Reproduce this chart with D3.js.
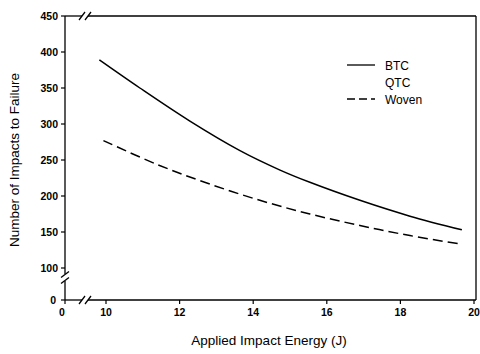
<!DOCTYPE html>
<html>
<head>
<meta charset="utf-8">
<script src="https://cdn.jsdelivr.net/npm/d3@7"></script>
<style>
  body { margin: 0; background: #fff; }
  text { font-family: "Liberation Sans", Arial, sans-serif; fill: #000; }
</style>
</head>
<body>
<script>
// data
const energy = [9.82, 10.92, 12.28, 13.64, 14.73, 15.54, 16.9, 18.26, 19.67];
const btc = [389, 350, 304, 263, 236, 219, 194, 172, 153];
const wovenEnergy = [9.93, 11.38, 12.74, 14.18, 15.54, 16.9, 18.26, 19.67];
const woven = [277, 244, 218, 194, 175, 159, 145, 133];
const xTicks = [10, 12, 14, 16, 18, 20];
const yTicks = [100, 150, 200, 250, 300, 350, 400, 450];
const legendNames = ["BTC", "QTC", "Woven"];

const width = 480, height = 354;
const mLeft = 65, mRight = 476, mTop = 16, mBottom = 300;

const svg = d3.select('body').append('svg')
  .attr('width', width)
  .attr('height', height);

// broken scales: main part + the zero stub
const x = d3.scaleLinear().domain([10, 20]).range([106, 474]);
const y = d3.scaleLinear().domain([100, 450]).range([268, mTop]);

const ax = svg.append('g').attr('stroke', '#000').attr('fill', 'none').attr('stroke-width', 1.3);

// left axis, broken near bottom
ax.append('line').attr('x1', mLeft).attr('x2', mLeft).attr('y1', mTop).attr('y2', 274);
ax.append('line').attr('x1', mLeft).attr('x2', mLeft).attr('y1', 281).attr('y2', mBottom);
// bottom axis, broken near left
ax.append('line').attr('x1', mLeft).attr('x2', 82).attr('y1', mBottom).attr('y2', mBottom);
ax.append('line').attr('x1', 88).attr('x2', mRight).attr('y1', mBottom).attr('y2', mBottom);
// top frame, broken
ax.append('line').attr('x1', mLeft).attr('x2', 82).attr('y1', mTop).attr('y2', mTop);
ax.append('line').attr('x1', 88).attr('x2', mRight).attr('y1', mTop).attr('y2', mTop);
// right frame
ax.append('line').attr('x1', mRight).attr('x2', mRight).attr('y1', mTop).attr('y2', mBottom);

// break marks
function slashes(cx, cy, horiz) {
  [-3, 3].forEach(o => {
    if (horiz) {
      ax.append('line').attr('x1', cx + o - 3).attr('y1', cy + 4).attr('x2', cx + o + 3).attr('y2', cy - 4);
    } else {
      ax.append('line').attr('x1', mLeft - 4).attr('y1', cy + o + 3).attr('x2', mLeft + 4).attr('y2', cy + o - 3);
    }
  });
}
slashes(85, mTop, true);
slashes(85, mBottom, true);
slashes(mLeft, 277.5, false);

// y ticks
const yt = svg.append('g');
yTicks.forEach(v => {
  yt.append('line').attr('x1', mLeft - 4).attr('x2', mLeft).attr('y1', y(v)).attr('y2', y(v)).attr('stroke', '#000').attr('stroke-width', 1.2);
  yt.append('text').attr('x', mLeft - 7).attr('y', y(v) + 3.5).attr('text-anchor', 'end')
    .attr('font-size', 10.5).attr('font-weight', 'bold').text(v);
});
yt.append('line').attr('x1', mLeft - 4).attr('x2', mLeft).attr('y1', mBottom).attr('y2', mBottom).attr('stroke', '#000').attr('stroke-width', 1.2);
yt.append('text').attr('x', mLeft - 9).attr('y', mBottom + 3.5).attr('text-anchor', 'end')
  .attr('font-size', 10.5).attr('font-weight', 'bold').text(0);

// x ticks
const xt = svg.append('g');
xTicks.forEach(v => {
  xt.append('line').attr('x1', x(v)).attr('x2', x(v)).attr('y1', mBottom).attr('y2', mBottom + 4).attr('stroke', '#000').attr('stroke-width', 1.2);
  xt.append('text').attr('x', x(v)).attr('y', mBottom + 16).attr('text-anchor', 'middle')
    .attr('font-size', 10.5).attr('font-weight', 'bold').text(v);
});
xt.append('line').attr('x1', mLeft).attr('x2', mLeft).attr('y1', mBottom).attr('y2', mBottom + 4).attr('stroke', '#000').attr('stroke-width', 1.2);
xt.append('text').attr('x', mLeft - 3).attr('y', mBottom + 16).attr('text-anchor', 'middle')
  .attr('font-size', 10.5).attr('font-weight', 'bold').text(0);

// axis titles
svg.append('text').attr('x', 269).attr('y', 345).attr('text-anchor', 'middle')
  .attr('font-size', 13.5).text('Applied Impact Energy (J)');
svg.append('text').attr('transform', 'translate(19,160) rotate(-90)').attr('text-anchor', 'middle')
  .attr('font-size', 13.5).text('Number of Impacts to Failure');

// curves
const line = d3.line().x(d => x(d[0])).y(d => y(d[1])).curve(d3.curveCatmullRom.alpha(0.5));
svg.append('path').datum(d3.zip(energy, btc))
  .attr('d', line).attr('fill', 'none').attr('stroke', '#000').attr('stroke-width', 1.5);
svg.append('path').datum(d3.zip(wovenEnergy, woven))
  .attr('d', line).attr('fill', 'none').attr('stroke', '#000').attr('stroke-width', 1.5)
  .attr('stroke-dasharray', '10,5');

// legend (QTC has no visible line)
const lg = svg.append('g');
legendNames.forEach((n, i) => {
  const ly = 65 + i * 17;
  if (n === 'BTC') {
    lg.append('line').attr('x1', 347).attr('x2', 375).attr('y1', ly).attr('y2', ly).attr('stroke', '#000').attr('stroke-width', 1.3);
  } else if (n === 'Woven') {
    lg.append('line').attr('x1', 347).attr('x2', 375).attr('y1', ly).attr('y2', ly).attr('stroke', '#000').attr('stroke-width', 1.5).attr('stroke-dasharray', '8,4');
  }
  lg.append('text').attr('x', 385).attr('y', ly + 4.5).attr('font-size', 12).text(n);
});
</script>
</body>
</html>
